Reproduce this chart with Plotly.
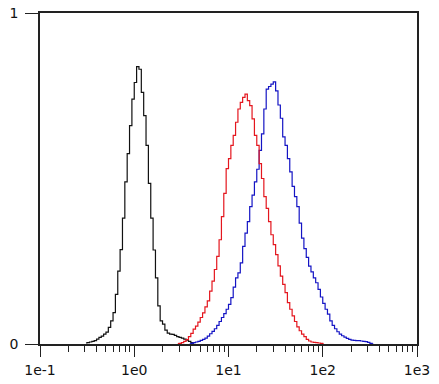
import plotly.graph_objects as go

# Histogram channel grid (log scale): 40 bins per decade starting at 1e-1
BINS_PER_DECADE = 40
LOG_MIN = -1

# Relative counts per bin
black_start = 19
black_counts = [0.003, 0.004, 0.006, 0.008, 0.010, 0.015, 0.020, 0.024, 0.030, 0.036,
                0.050, 0.070, 0.095, 0.150, 0.220, 0.285, 0.380, 0.490, 0.575, 0.660,
                0.740, 0.790, 0.838, 0.830, 0.760, 0.690, 0.600, 0.485, 0.380, 0.284,
                0.200, 0.115, 0.070, 0.060, 0.042, 0.033, 0.030, 0.029, 0.026, 0.022,
                0.020, 0.018, 0.015, 0.012, 0.008, 0.004, 0.0]

red_start = 58
red_counts = [0.001, 0.002, 0.004, 0.008, 0.013, 0.022, 0.032, 0.045, 0.054, 0.066,
              0.080, 0.094, 0.112, 0.130, 0.160, 0.190, 0.225, 0.265, 0.315, 0.385,
              0.455, 0.530, 0.560, 0.600, 0.630, 0.670, 0.710, 0.730, 0.745, 0.755,
              0.735, 0.720, 0.680, 0.630, 0.600, 0.545, 0.500, 0.445, 0.410, 0.370,
              0.330, 0.300, 0.270, 0.236, 0.205, 0.180, 0.155, 0.125, 0.105, 0.085,
              0.068, 0.052, 0.040, 0.030, 0.022, 0.014, 0.009, 0.006, 0.005, 0.004,
              0.003, 0.002, 0.0]

blue_start = 63
blue_counts = [0.0, 0.002, 0.004, 0.006, 0.008, 0.011, 0.014, 0.018, 0.024, 0.031,
               0.038, 0.046, 0.056, 0.068, 0.080, 0.092, 0.105, 0.120, 0.140, 0.172,
               0.200, 0.215, 0.245, 0.295, 0.335, 0.370, 0.415, 0.450, 0.490, 0.528,
               0.585, 0.635, 0.710, 0.770, 0.778, 0.785, 0.792, 0.765, 0.722, 0.682,
               0.626, 0.600, 0.560, 0.520, 0.476, 0.445, 0.415, 0.365, 0.320, 0.288,
               0.262, 0.235, 0.218, 0.200, 0.185, 0.165, 0.142, 0.123, 0.105, 0.090,
               0.070, 0.056, 0.046, 0.037, 0.030, 0.025, 0.021, 0.017, 0.014, 0.012,
               0.011, 0.010, 0.010, 0.009, 0.008, 0.007, 0.005, 0.002, 0.0]

x_tick_vals = [0.1, 1, 10, 100, 1000]
x_tick_text = ["1e-1", "1e0", "1e1", "1e2", "1e3"]
y_tick_vals = [0, 1]
y_tick_text = ["0", "1"]


def centers(start, n):
    return [10 ** (LOG_MIN + (start + k + 0.5) / BINS_PER_DECADE) for k in range(n)]


minor_vals = [m * 10 ** d for d in range(-1, 3) for m in range(2, 10)]

fig = go.Figure()
series = [
    (black_start, black_counts, "#111111"),
    (blue_start, blue_counts, "#1414c4"),
    (red_start, red_counts, "#e4161e"),
]
for start, counts, color in series:
    fig.add_trace(go.Scatter(
        x=centers(start, len(counts)), y=counts, mode="lines",
        line=dict(color=color, width=1.2, shape="hvh"),
        showlegend=False, hoverinfo="skip",
    ))

font = dict(family="DejaVu Sans", size=14, color="#111111")
fig.update_layout(
    width=439, height=384,
    margin=dict(l=40, r=22, t=13, b=40),
    paper_bgcolor="white", plot_bgcolor="white",
    font=font,
)
fig.update_xaxes(
    type="log", range=[-1, 3], automargin=False,
    tickmode="array", tickvals=x_tick_vals, ticktext=x_tick_text,
    ticks="outside", ticklen=11, tickwidth=1.3, tickcolor="#222222",
    ticklabelstandoff=1,
    minor=dict(tickmode="array", tickvals=minor_vals, ticks="outside",
               ticklen=6, tickwidth=1, tickcolor="#222222", showgrid=False),
    showline=True, linecolor="#222222", linewidth=1.6, mirror=True,
    showgrid=False, zeroline=False,
)
fig.update_yaxes(
    range=[0, 1], automargin=False,
    tickmode="array", tickvals=y_tick_vals, ticktext=y_tick_text,
    ticks="outside", ticklen=13, tickwidth=1.3, tickcolor="#222222",
    ticklabelstandoff=4,
    showline=True, linecolor="#222222", linewidth=1.6, mirror=True,
    showgrid=False, zeroline=False,
)

fig.write_html("out.html")
